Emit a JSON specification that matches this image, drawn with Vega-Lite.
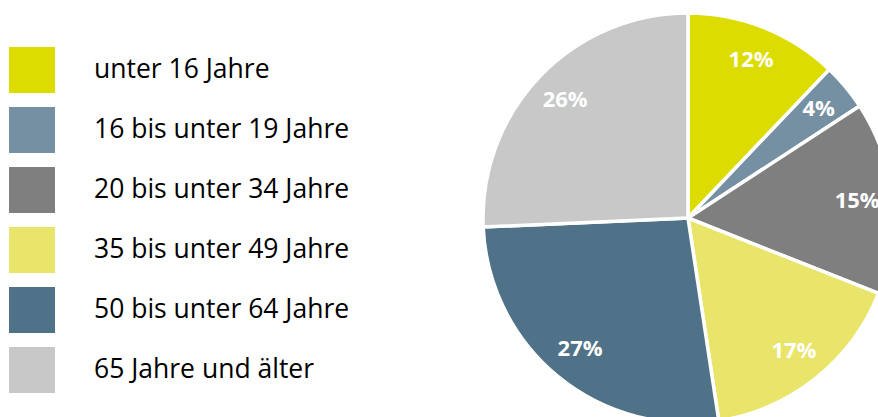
{
  "$schema": "https://vega.github.io/schema/vega-lite/v6.json",
  "autosize": "none",
  "width": 410,
  "height": 436,
  "padding": {"left": 483, "top": 0, "right": 0, "bottom": 0},
  "background": "white",
  "config": {"view": {"stroke": null}, "font": "Open Sans"},
  "data": {
    "values": [
      {"i": 1, "gruppe": "unter 16 Jahre", "anteil": 12.1, "label": "12%"},
      {"i": 2, "gruppe": "16 bis unter 19 Jahre", "anteil": 3.7, "label": "4%"},
      {"i": 3, "gruppe": "20 bis unter 34 Jahre", "anteil": 15.2, "label": "15%"},
      {"i": 4, "gruppe": "35 bis unter 49 Jahre", "anteil": 16.6, "label": "17%"},
      {"i": 5, "gruppe": "50 bis unter 64 Jahre", "anteil": 26.7, "label": "27%"},
      {"i": 6, "gruppe": "65 Jahre und älter", "anteil": 25.7, "label": "26%"}
    ]
  },
  "encoding": {
    "theta": {"field": "anteil", "type": "quantitative", "stack": true},
    "order": {"field": "i", "type": "quantitative"},
    "color": {
      "field": "gruppe",
      "type": "nominal",
      "sort": ["unter 16 Jahre", "16 bis unter 19 Jahre", "20 bis unter 34 Jahre", "35 bis unter 49 Jahre", "50 bis unter 64 Jahre", "65 Jahre und älter"],
      "scale": {
        "domain": ["unter 16 Jahre", "16 bis unter 19 Jahre", "20 bis unter 34 Jahre", "35 bis unter 49 Jahre", "50 bis unter 64 Jahre", "65 Jahre und älter"],
        "range": ["#DCDC00", "#7690A3", "#7F7F7F", "#E8E56A", "#4F7288", "#C8C8C8"]
      },
      "legend": {
        "orient": "none",
        "legendX": -474,
        "legendY": 47,
        "title": null,
        "symbolType": "square",
        "symbolSize": 2116,
        "symbolStrokeWidth": 0,
        "labelFontSize": 26.5,
        "labelFont": "Open Sans",
        "labelColor": "#000000",
        "labelOffset": 39,
        "rowPadding": 14,
        "labelLimit": 400
      }
    }
  },
  "layer": [
    {
      "mark": {"type": "arc", "stroke": "white", "strokeWidth": 3.5}
    },
    {
      "mark": {"type": "text", "radius": 170, "fontSize": 22, "fontWeight": "bold", "fill": "white", "font": "Open Sans"},
      "encoding": {
        "text": {"field": "label", "type": "nominal"},
        "color": {"value": "white"}
      }
    }
  ]
}
